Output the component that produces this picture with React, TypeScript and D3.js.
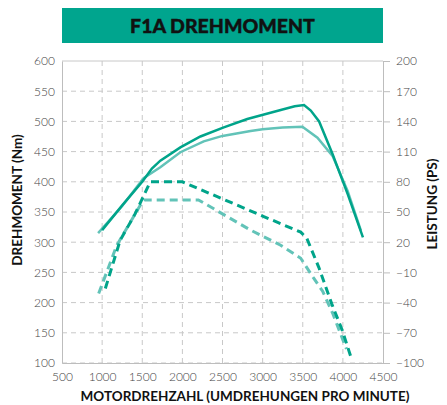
import React, { useEffect, useRef } from "react";
import * as d3 from "d3";

// Drehmoment (Nm) über Drehzahl
const torqueDarkRpm = [1000, 1250, 1500, 1620, 1725, 1975, 2225, 2516, 2809, 3225, 3400, 3516, 3600, 3704, 3871, 4059, 4250];
const torqueDarkNm = [320, 361, 400, 422, 435, 457, 475, 490, 504, 519, 525, 527, 518, 500, 446, 380, 308];
const torqueLightRpm = [950, 1250, 1516, 1725, 1975, 2266, 2500, 2850, 3000, 3250, 3496, 3683, 3871, 4059, 4225];
const torqueLightNm = [315, 360, 406, 424, 449, 467, 476, 484, 487, 490, 491, 473, 443, 385, 319];

// Leistung (PS) über Drehzahl
const powerDarkRpm = [1040, 1225, 1410, 1600, 2000, 2500, 3000, 3475, 3550, 3700, 3860, 3990, 4100];
const powerDarkPs = [-26, 22, 48, 80, 80, 63, 46, 30, 24, -5, -41, -67, -94];
const powerLightRpm = [957, 1183, 1500, 1530, 2200, 2850, 3225, 3475, 3630, 3750, 3875, 4000, 4045];
const powerLightPs = [-31, 17, 60, 62, 62, 32, 17, 4, -15, -29, -51, -77, -86];

const xTicks = [500, 1000, 1500, 2000, 2500, 3000, 3500, 4000, 4500];
const yLeftTicks = [100, 150, 200, 250, 300, 350, 400, 450, 500, 550, 600];
const yRightTicks = [-100, -70, -40, -10, 20, 50, 80, 110, 140, 170, 200];

const DARK = "#00a48a";
const LIGHT = "#62c3b8";

const Chart = () => {
  const ref = useRef<SVGSVGElement>(null);

  useEffect(() => {
    const width = 447;
    const height = 405;
    const m = { top: 61, right: 64, bottom: 42, left: 62 };

    const x = d3.scaleLinear([500, 4500], [m.left, width - m.right]);
    const yL = d3.scaleLinear([100, 600], [height - m.bottom, m.top]);
    const yR = d3.scaleLinear([-100, 200], [height - m.bottom, m.top]);

    const svg = d3.select(ref.current);
    svg.selectAll("*").remove();

    // title box
    svg
      .append("rect")
      .attr("x", m.left)
      .attr("y", 8)
      .attr("width", width - m.left - m.right)
      .attr("height", 35)
      .attr("fill", "#00a58e");
    svg
      .append("text")
      .attr("x", (m.left + width - m.right) / 2)
      .attr("y", 32.5)
      .attr("text-anchor", "middle")
      .attr("font-family", "Lato")
      .attr("font-weight", 900)
      .attr("font-size", 19.5)
      .attr("fill", "#111")
      .attr("stroke", "#111")
      .attr("stroke-width", 0.4)
      .text("F1A DREHMOMENT");

    // grid
    const grid = svg.append("g").attr("stroke", "#c8c8c8").attr("stroke-width", 1);
    grid
      .selectAll("line.h")
      .data(yLeftTicks)
      .join("line")
      .attr("x1", m.left)
      .attr("x2", width - m.right)
      .attr("y1", (d) => yL(d))
      .attr("y2", (d) => yL(d))
      .attr("stroke-dasharray", (d) => (d === 600 ? null : "5 4"));
    grid
      .selectAll("line.v")
      .data(xTicks.slice(1, -1))
      .join("line")
      .attr("x1", (d) => x(d))
      .attr("x2", (d) => x(d))
      .attr("y1", m.top)
      .attr("y2", height - m.bottom)
      .attr("stroke-dasharray", "5 4");

    // axes
    const tickText = (g) =>
      g
        .call((g) => g.select(".domain").attr("stroke", "#bdbdbd"))
        .call((g) => g.selectAll(".tick line").attr("stroke", "#bdbdbd"))
        .call((g) =>
          g
            .selectAll(".tick text")
            .attr("font-family", "Lato")
            .attr("font-weight", 300)
            .attr("font-size", 12)
            .attr("fill", "#444")
        );

    svg
      .append("g")
      .attr("transform", `translate(0,${height - m.bottom})`)
      .call(
        d3
          .axisBottom(x)
          .tickValues(xTicks)
          .tickFormat(d3.format("d"))
          .tickSize(0)
          .tickPadding(9)
          .tickSizeOuter(0)
      )
      .call(tickText);

    svg
      .append("g")
      .attr("transform", `translate(${m.left},0)`)
      .call(d3.axisLeft(yL).tickValues(yLeftTicks).tickSize(0).tickPadding(7).tickSizeOuter(0))
      .call(tickText);

    svg
      .append("g")
      .attr("transform", `translate(${width - m.right},0)`)
      .call(d3.axisRight(yR).tickValues(yRightTicks).tickSize(7).tickPadding(6).tickSizeOuter(0))
      .call(tickText);

    // axis titles
    const title = (t, tx, ty, rot, size) =>
      svg
        .append("text")
        .attr("transform", `translate(${tx},${ty}) rotate(${rot})`)
        .attr("text-anchor", "middle")
        .attr("font-family", "Lato")
        .attr("font-weight", 700)
        .attr("font-size", size)
        .attr("fill", "#111")
        .text(t);
    title("DREHMOMENT (Nm)", 22, 200, -90, 13.5);
    title("LEISTUNG (PS)", 437, 204, -90, 13.5);
    title("MOTORDREHZAHL (UMDREHUNGEN PRO MINUTE)", 245, 401, 0, 13.5);

    // series
    const drawLine = (xs, ys, yScale, color, dashed) => {
      const line = d3
        .line<number>()
        .x((i) => x(xs[i]))
        .y((i) => yScale(ys[i]));
      svg
        .append("path")
        .attr("fill", "none")
        .attr("stroke", color)
        .attr("stroke-width", dashed ? 3 : 2.5)
        .attr("stroke-dasharray", dashed ? "8 5" : null)
        .attr("d", line(d3.range(xs.length)));
    };
    drawLine(powerLightRpm, powerLightPs, yR, LIGHT, true);
    drawLine(powerDarkRpm, powerDarkPs, yR, DARK, true);
    drawLine(torqueLightRpm, torqueLightNm, yL, LIGHT, false);
    drawLine(torqueDarkRpm, torqueDarkNm, yL, DARK, false);
  }, []);

  return (
    <svg
      ref={ref}
      width={447}
      height={405}
      style={{ position: "absolute", left: 0, top: 0, display: "block" }}
    />
  );
};

export default function App() {
  return <Chart />;
}
